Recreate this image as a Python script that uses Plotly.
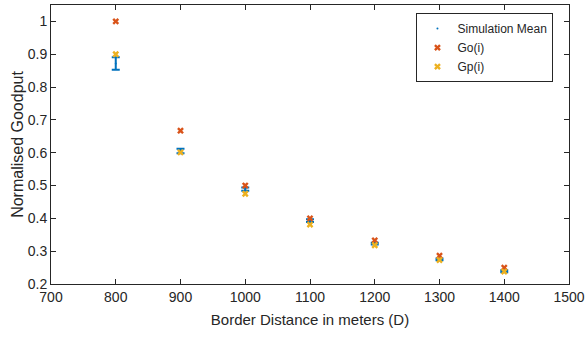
import plotly.graph_objects as go

distance = [800, 900, 1000, 1100, 1200, 1300, 1400]
sim_mean = [0.872, 0.605, 0.489, 0.393, 0.323, 0.275, 0.239]
sim_err = [0.019, 0.007, 0.005, 0.004, 0.003, 0.003, 0.003]
go_i = [1.0, 0.667, 0.5, 0.4, 0.333, 0.286, 0.25]
gp_i = [0.9, 0.601, 0.475, 0.381, 0.318, 0.273, 0.238]

FONT = "Liberation Sans, Arial, sans-serif"

fig = go.Figure()
fig.add_trace(go.Scatter(
    x=distance, y=sim_mean, mode="markers", name="Simulation Mean",
    marker=dict(size=2, color="#0072BD"),
    error_y=dict(type="data", array=sim_err, visible=True, color="#0072BD",
                 thickness=2, width=4),
))
fig.add_trace(go.Scatter(
    x=distance, y=go_i, mode="markers", name="Go(i)",
    marker=dict(symbol="x", size=6, color="#D95319"),
))
fig.add_trace(go.Scatter(
    x=distance, y=gp_i, mode="markers", name="Gp(i)",
    marker=dict(symbol="x", size=6, color="#EDB120"),
))

axis_common = dict(
    showgrid=False, zeroline=False, showline=True, linecolor="#262626",
    linewidth=1, mirror="ticks", ticks="inside", ticklen=5,
    tickcolor="#262626", tickfont=dict(size=14, color="#262626", family=FONT),
    automargin=False, ticklabeloverflow="allow",
)
fig.update_xaxes(range=[700, 1500], dtick=100, tick0=700,
                 title=dict(text="Border Distance in meters (D)",
                            font=dict(size=15, color="#262626", family=FONT),
                            standoff=10),
                 **axis_common)
fig.update_yaxes(range=[0.2, 1.05], tickvals=[0.2, 0.3, 0.4, 0.5, 0.6, 0.7, 0.8, 0.9, 1],
                 ticktext=["0.2", "0.3", "0.4", "0.5", "0.6", "0.7", "0.8", "0.9", "1"],
                 title=dict(text="Normalised Goodput",
                            font=dict(size=16, color="#262626", family=FONT),
                            standoff=0),
                 **axis_common)

fig.update_layout(
    width=585, height=337,
    margin=dict(l=51, r=16, t=5, b=53),
    plot_bgcolor="white", paper_bgcolor="white",
    font=dict(family=FONT, color="#262626"),
    legend=dict(x=0.97, y=0.971, xanchor="right", yanchor="top",
                bgcolor="white", bordercolor="#262626", borderwidth=1,
                font=dict(size=12, family=FONT, color="#262626"),
                tracegroupgap=0, itemwidth=30),
)

fig.write_html("out.html")
